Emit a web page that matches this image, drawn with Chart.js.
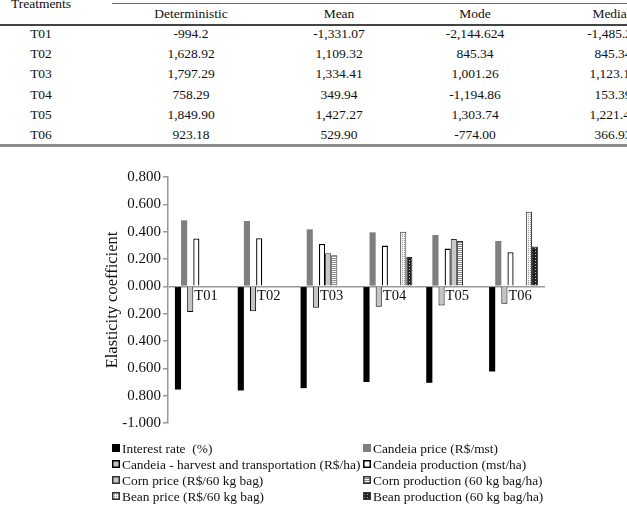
<!DOCTYPE html>
<html>
<head>
<meta charset="utf-8">
<script src="https://cdn.jsdelivr.net/npm/chart.js@4"></script>
<style>
  html, body { margin: 0; padding: 0; background: #fff; overflow: hidden; }
  body { width: 627px; height: 507px; position: relative; font-family: "Liberation Serif", "Times New Roman", serif; color: #111; }
  .cell { position: absolute; width: 200px; text-align: center; font-size: 13.5px; line-height: 16px; white-space: nowrap; }
  .rule { position: absolute; }
  #chart { position: absolute; left: 0; top: 160px; }
</style>
</head>
<body>
<div id="tbl"></div>
<canvas id="chart" width="627" height="347"></canvas>
<script>
// table above the chart
const tableHeaders = ["Treatments", "Deterministic", "Mean", "Mode", "Median"];
const tableRows = [
    ["T01", "-994.2", "-1,331.07", "-2,144.624", "-1,485.24"],
    ["T02", "1,628.92", "1,109.32", "845.34", "845.34"],
    ["T03", "1,797.29", "1,334.41", "1,001.26", "1,123.15"],
    ["T04", "758.29", "349.94", "-1,194.86", "153.39"],
    ["T05", "1,849.90", "1,427.27", "1,303.74", "1,221.46"],
    ["T06", "923.18", "529.90", "-774.00", "366.93"]
];

// chart data
const categories = ["T01", "T02", "T03", "T04", "T05", "T06"];
const interestRate      = [-0.755, -0.762, -0.745, -0.700, -0.706, -0.623];
const candeiaPrice      = [0.483, 0.478, 0.417, 0.395, 0.376, 0.332];
const harvestTransport  = [-0.188, -0.183, -0.156, -0.149, -0.141, -0.127];
const candeiaProduction = [0.350, 0.352, 0.310, 0.298, 0.276, 0.249];
const cornPrice         = [null, null, 0.242, null, 0.347, null];
const cornProduction    = [null, null, 0.227, null, 0.332, null];
const beanPrice         = [null, null, null, 0.400, null, 0.545];
const beanProduction    = [null, null, null, 0.215, null, 0.291];
const yTicks = { min: -1, max: 0.8, step: 0.2 };

// --- table ---
const colX = [41, 191, 339, 475, 613];
const tbl = document.getElementById("tbl");
function addCell(txt, cx, cy) {
    const d = document.createElement("div");
    d.className = "cell";
    d.textContent = txt;
    d.style.left = (cx - 100) + "px";
    d.style.top = (cy - 8) + "px";
    tbl.appendChild(d);
}
function addRule(x, y, w, h, c) {
    const d = document.createElement("div");
    d.className = "rule";
    d.style.cssText = `left:${x}px;top:${y}px;width:${w}px;height:${h}px;background:${c}`;
    tbl.appendChild(d);
}
addCell(tableHeaders[0], colX[0], 4);
tableHeaders.slice(1).forEach((h, i) => addCell(h, colX[i + 1], 14));
tableRows.forEach((r, ri) => r.forEach((v, ci) => addCell(v, colX[ci], 34 + ri * 20.2)));
addRule(112, 3, 515, 1, "#666");
addRule(0, 24, 627, 1.5, "#444");
addRule(0, 144, 627, 3, "#8c8c8c");

// --- patterns ---
function pattern(w, h, draw) {
    const c = document.createElement("canvas");
    c.width = w; c.height = h;
    const g = c.getContext("2d");
    draw(g);
    return g.createPattern(c, "repeat");
}
const stripes = pattern(2, 2, g => { g.fillStyle = "#fff"; g.fillRect(0, 0, 2, 2); g.fillStyle = "#888"; g.fillRect(0, 0, 2, 1); });
const lightDots = pattern(2, 2, g => { g.fillStyle = "#f4f4f4"; g.fillRect(0, 0, 2, 2); g.fillStyle = "#999"; g.fillRect(0, 0, 1, 1); });
const darkDots = pattern(3, 3, g => { g.fillStyle = "#222"; g.fillRect(0, 0, 3, 3); g.fillStyle = "#bbb"; g.fillRect(1, 1, 1, 1); });

const series = [
    { label: "Interest rate  (%)", data: interestRate, backgroundColor: "#000", borderColor: "#000", borderWidth: 0 },
    { label: "Candeia price (R$/mst)", data: candeiaPrice, backgroundColor: "#7f7f7f", borderColor: "#7f7f7f", borderWidth: 0 },
    { label: "Candeia - harvest and transportation (R$/ha)", data: harvestTransport, backgroundColor: "#c4c4c4", borderColor: "#000", borderWidth: 1 },
    { label: "Candeia production (mst/ha)", data: candeiaProduction, backgroundColor: "#fff", borderColor: "#000", borderWidth: 1.3 },
    { label: "Corn price (R$/60 kg bag)", data: cornPrice, backgroundColor: "#c8c8c8", borderColor: "#333", borderWidth: 1 },
    { label: "Corn production (60 kg bag/ha)", data: cornProduction, backgroundColor: stripes, borderColor: "#333", borderWidth: 1 },
    { label: "Bean price (R$/60 kg bag)", data: beanPrice, backgroundColor: lightDots, borderColor: "#333", borderWidth: 1 },
    { label: "Bean production (60 kg bag/ha)", data: beanProduction, backgroundColor: darkDots, borderColor: "#333", borderWidth: 1 }
];

const serif = "'Liberation Serif', 'Times New Roman', serif";

// category labels sit just right of the harvest bar, under the zero line
const catLabels = {
    id: "catLabels",
    afterDatasetsDraw(chart) {
        const ctx = chart.ctx;
        const meta = chart.getDatasetMeta(2);
        const y0 = chart.scales.y.getPixelForValue(0);
        ctx.save();
        ctx.font = "14.5px " + serif;
        ctx.fillStyle = "#111";
        ctx.textAlign = "left";
        ctx.textBaseline = "top";
        meta.data.forEach((bar, i) => {
            ctx.fillText(categories[i], bar.x + bar.width / 2 + 1, y0 + 3);
        });
        ctx.restore();
    }
};

// two-column legend under the plot
const legend2 = {
    id: "legend2",
    afterDraw(chart) {
        const ctx = chart.ctx;
        ctx.save();
        ctx.font = "13.4px " + serif;
        ctx.textBaseline = "middle";
        chart.data.datasets.forEach((ds, i) => {
            const x = i % 2 ? 363 : 112;
            const y = 288 + Math.floor(i / 2) * 16;
            ctx.fillStyle = ds.backgroundColor;
            ctx.fillRect(x, y - 4, 8, 8);
            if (ds.borderWidth) {
                ctx.strokeStyle = ds.borderColor;
                ctx.lineWidth = 1.5;
                ctx.strokeRect(x + 0.75, y - 3.25, 6.5, 6.5);
            }
            ctx.fillStyle = "#111";
            ctx.fillText(ds.label, x + 10, y + 1);
        });
        ctx.restore();
    }
};

Chart.defaults.color = "#111";
Chart.defaults.font.family = serif;

new Chart(document.getElementById("chart"), {
    type: "bar",
    data: { labels: categories, datasets: series },
    options: {
        responsive: false,
        animation: false,
        devicePixelRatio: 1,
        layout: { padding: { left: 100, right: 82, top: 17, bottom: 84 } },
        datasets: { bar: { categoryPercentage: 0.78, barPercentage: 1 } },
        plugins: { legend: { display: false }, tooltip: { enabled: false } },
        scales: {
            x: { display: false },
            y: {
                min: yTicks.min,
                max: yTicks.max,
                afterFit(s) { s.width = 68; },
                ticks: {
                    stepSize: yTicks.step,
                    padding: 2,
                    font: { size: 15 },
                    color: "#111",
                    callback(v) {
                        const r = Math.round(v * 1000) / 1000;
                        return (r < 0 && r > -1 ? Math.abs(r) : r).toFixed(3);
                    }
                },
                grid: {
                    drawOnChartArea: true,
                    tickLength: 5,
                    tickColor: "#999",
                    lineWidth: 1.5,
                    color: c => (c.tick && Math.abs(c.tick.value) < 1e-9 ? "#9a9a9a" : "rgba(0,0,0,0)")
                },
                border: { color: "#999", width: 1.5 },
                title: { display: true, text: "Elasticity coefficient", font: { size: 16.5 }, color: "#111", padding: { top: 3, bottom: 2 } }
            }
        }
    },
    plugins: [catLabels, legend2]
});
</script>
</body>
</html>
